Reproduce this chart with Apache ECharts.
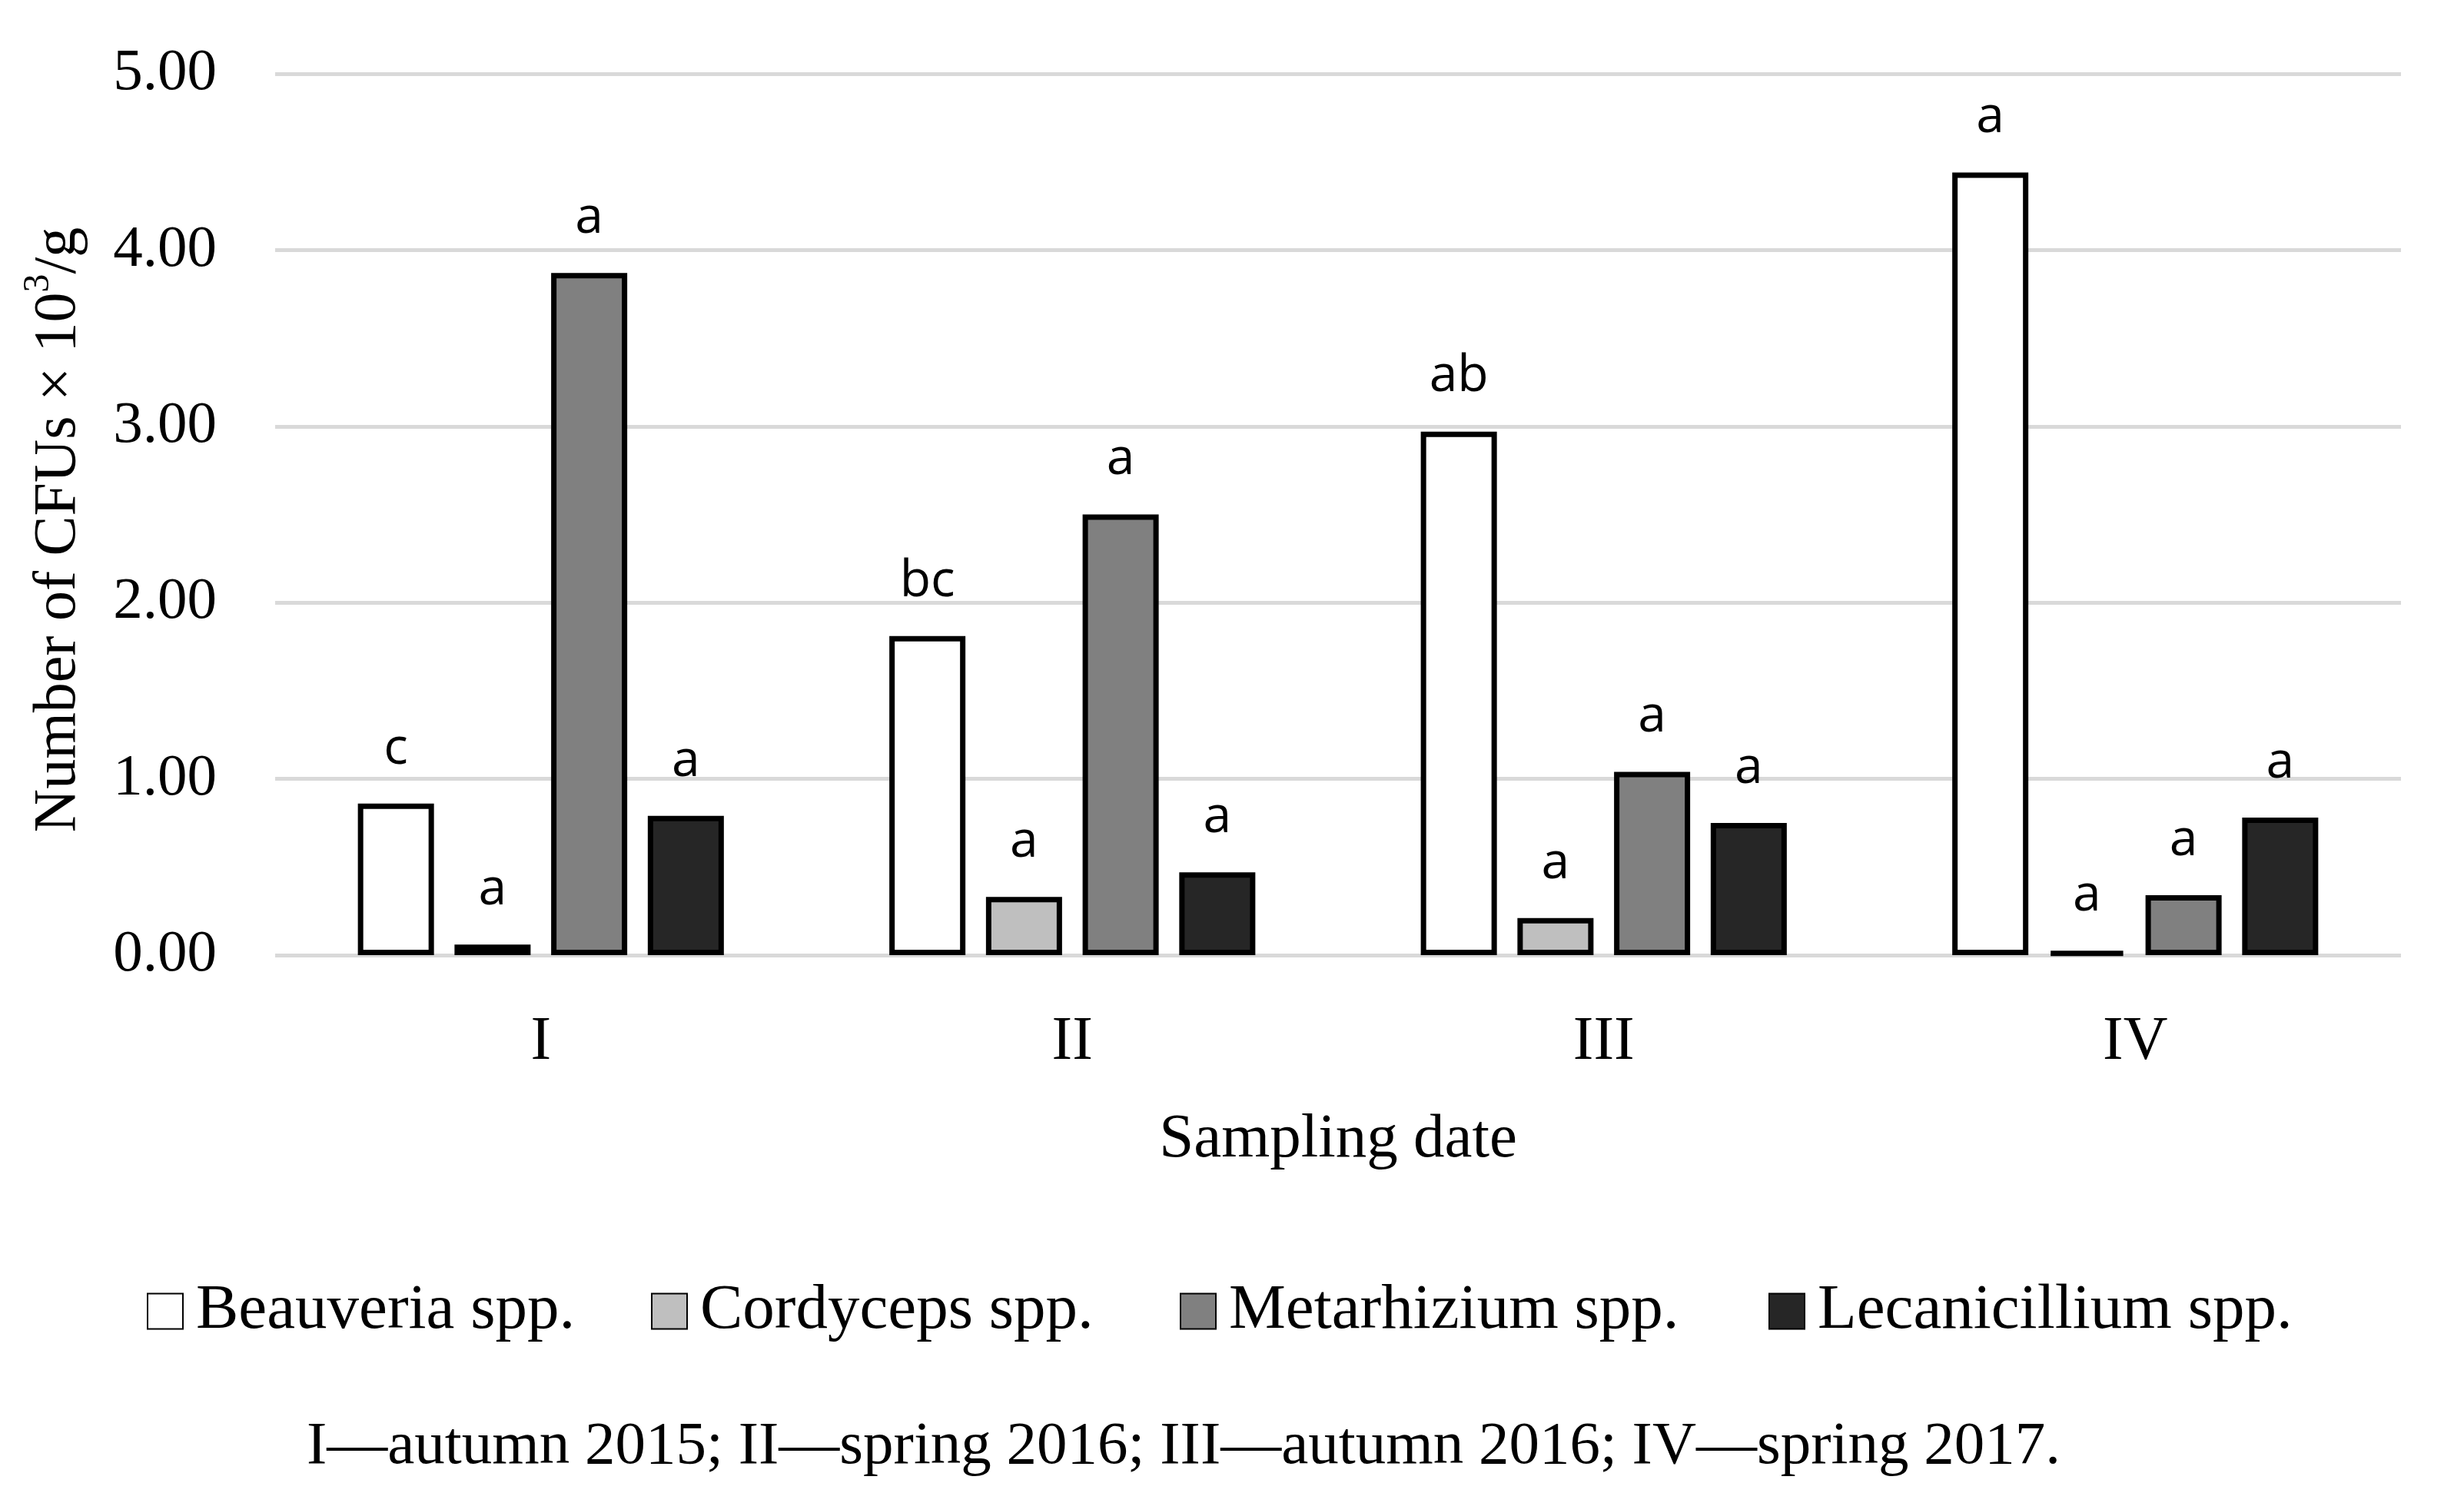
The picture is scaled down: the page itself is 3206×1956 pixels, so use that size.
<!DOCTYPE html>
<html>
<head>
<meta charset="utf-8">
<script src="https://cdn.jsdelivr.net/npm/echarts@6/dist/echarts.min.js"></script>
<style>
html,body{margin:0;padding:0;background:#fff;}
#c{width:3206px;height:1956px;}
</style>
</head>
<body>
<div id="c"></div>
<script>
const categories = ['I', 'II', 'III', 'IV'];
const seriesNames = ['Beauveria spp.', 'Cordyceps spp.', 'Metarhizium spp.', 'Lecanicillium spp.'];
const beauveria = [0.86, 1.81, 2.97, 4.44];
const cordyceps = [0.06, 0.33, 0.21, 0.02];
const metarhizium = [3.87, 2.50, 1.04, 0.34];
const lecanicillium = [0.79, 0.47, 0.75, 0.78];
const beauveriaLetters = ['c', 'bc', 'ab', 'a'];
const cordycepsLetters = ['a', 'a', 'a', 'a'];
const metarhiziumLetters = ['a', 'a', 'a', 'a'];
const lecanicilliumLetters = ['a', 'a', 'a', 'a'];
const yTicks = [0, 1, 2, 3, 4, 5];
const footnote = 'I\u2014autumn 2015; II\u2014spring 2016; III\u2014autumn 2016; IV\u2014spring 2017.';

const colors = ['#ffffff', '#bfbfbf', '#808080', '#262626'];
const values = [beauveria, cordyceps, metarhizium, lecanicillium];
const letters = [beauveriaLetters, cordycepsLetters, metarhiziumLetters, lecanicilliumLetters];
const legendLefts = [186, 842, 1530, 2296];
const serif = '"Liberation Serif", "DejaVu Serif", serif';
const sans = '"Open Sans", "Noto Sans", sans-serif';

const chart = echarts.init(document.getElementById('c'), null, {renderer: 'canvas'});
chart.setOption({
  backgroundColor: '#ffffff',
  animation: false,
  grid: {left: 358, right: 82, top: 96, bottom: 713, containLabel: false},
  legend: seriesNames.map((name, i) => ({
    data: [name],
    left: legendLefts[i],
    top: 1660,
    itemWidth: 46,
    itemHeight: 46,
    icon: 'rect',
    textStyle: {fontFamily: serif, fontSize: 83, color: '#000', padding: [0, 0, 0, 12]}
  })),
  xAxis: {
    type: 'category',
    data: categories,
    axisLine: {show: false},
    axisTick: {show: false},
    axisLabel: {fontFamily: serif, fontSize: 80, color: '#000', margin: 74},
    name: 'Sampling date',
    nameLocation: 'middle',
    nameGap: 200,
    nameTextStyle: {fontFamily: serif, fontSize: 81, color: '#000'}
  },
  yAxis: {
    type: 'value',
    min: yTicks[0],
    max: yTicks[yTicks.length - 1],
    interval: 1,
    axisLine: {show: false},
    axisTick: {show: false},
    splitLine: {lineStyle: {color: '#d9d9d9', width: 5}},
    axisLabel: {fontFamily: serif, fontSize: 77, color: '#000', margin: 76,
      formatter: v => v.toFixed(2)},
    name: '{n|Number of CFUs \u00d7 10}{s|3}{e|/g}',
    nameLocation: 'middle',
    nameGap: 242,
    nameRotate: 90,
    nameTextStyle: {
      rich: {
        n: {fontFamily: serif, fontSize: 78, color: '#000', verticalAlign: 'bottom', lineHeight: 90},
        s: {fontFamily: serif, fontSize: 48, color: '#000', verticalAlign: 'top', lineHeight: 90},
        e: {fontFamily: serif, fontSize: 78, color: '#000', verticalAlign: 'bottom', lineHeight: 90, padding: [0, 40, 0, 0]}
      }
    }
  },
  series: seriesNames.map((name, i) => ({
    name: name,
    type: 'bar',
    data: values[i],
    barWidth: 99,
    barGap: '27%',
    itemStyle: {color: colors[i], borderColor: '#000', borderWidth: 7},
    label: {
      show: true,
      position: 'top',
      distance: 38,
      fontFamily: sans,
      fontSize: 66,
      color: '#000',
      formatter: p => letters[i][p.dataIndex]
    }
  })),
  graphic: [{
    type: 'text',
    left: 399,
    top: 1844,
    style: {text: footnote, font: '79px ' + serif, fill: '#000'}
  }]
});
</script>
</body>
</html>
